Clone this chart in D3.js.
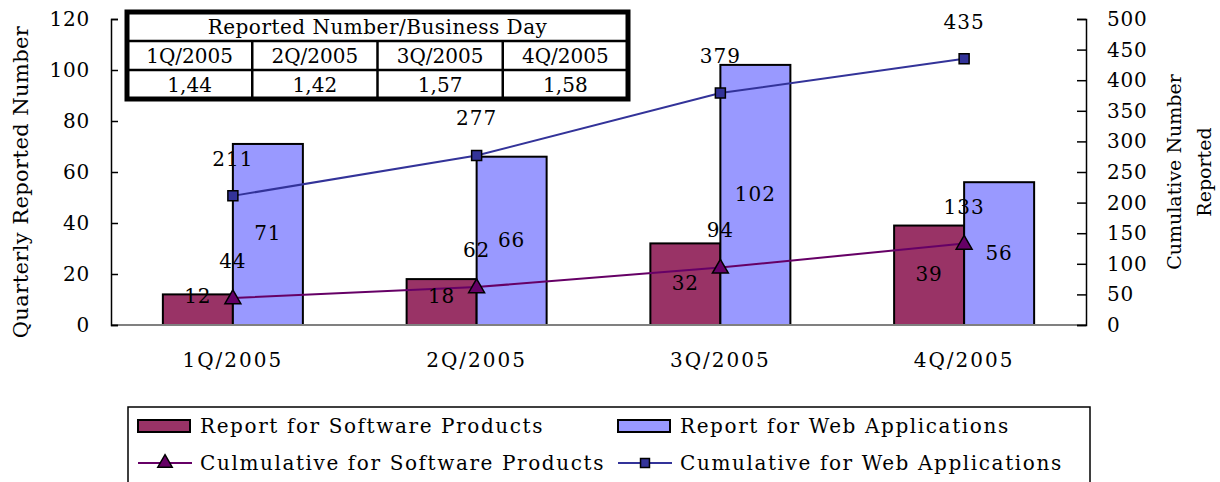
<!DOCTYPE html>
<html>
<head>
<meta charset="utf-8">
<script src="https://cdn.jsdelivr.net/npm/d3@7"></script>
<style>
    body { margin: 0; background: #fff; }
    svg { display: block; }
</style>
</head>
<body>
<div id="chart"></div>
<script>
// values
const quarters = ['1Q/2005', '2Q/2005', '3Q/2005', '4Q/2005'];
const softwareReports = [12, 18, 32, 39];
const webReports = [71, 66, 102, 56];
const softwareCumulative = [44, 62, 94, 133];
const webCumulative = [211, 277, 379, 435];
const perDay = ['1,44', '1,42', '1,57', '1,58'];
const leftTicks = [0, 20, 40, 60, 80, 100, 120];
const rightTicks = [0, 50, 100, 150, 200, 250, 300, 350, 400, 450, 500];

const W = 1220, H = 482;
const font = '"DejaVu Serif", "Liberation Serif", serif';
const fs = 20;

const m = { left: 111, right: 1086, top: 19, bottom: 325 };

const svg = d3.select('#chart')
    .append('svg')
    .attr('width', W)
    .attr('height', H)
    .style('font-family', font)
    .style('font-size', `${fs}px`);

svg.append('rect').attr('width', W).attr('height', H).style('fill', '#fff');

const x0 = d3.scaleBand()
    .domain(quarters)
    .range([m.left, m.right])
    .paddingInner(0.4256)
    .paddingOuter(0.2128);

const x1 = d3.scaleBand()
    .domain(['sw', 'web'])
    .range([0, x0.bandwidth()]);

const yL = d3.scaleLinear().domain([0, 120]).range([m.bottom, m.top]);
const yR = d3.scaleLinear().domain([0, 500]).range([m.bottom, m.top]);

const barColor = { sw: '#993366', web: '#9999FF' };
const lineColor = { sw: '#660066', web: '#333399' };

// bars
const bars = quarters.map((q, i) => [
    { q, key: 'sw', v: softwareReports[i] },
    { q, key: 'web', v: webReports[i] }
]).flat();

svg.append('g').selectAll('rect')
    .data(bars)
    .join('rect')
    .attr('x', d => x0(d.q) + x1(d.key))
    .attr('y', d => yL(d.v))
    .attr('width', x1.bandwidth())
    .attr('height', d => yL(0) - yL(d.v))
    .style('fill', d => barColor[d.key])
    .style('stroke', '#000')
    .style('stroke-width', '2px');

// axes
svg.append('line')
    .attr('x1', m.left).attr('x2', m.right)
    .attr('y1', yL(0)).attr('y2', yL(0))
    .style('stroke', '#808080').style('stroke-width', '2px');

const leftAxis = d3.axisRight(yL).tickValues(leftTicks).tickSize(7).tickFormat('');
svg.append('g')
    .attr('transform', `translate(${m.left},0)`)
    .call(leftAxis)
    .call(g => g.selectAll('line,path').style('stroke', '#000').style('stroke-width', '1.5px'));

svg.append('g').selectAll('text')
    .data(leftTicks)
    .join('text')
    .attr('x', 90)
    .attr('y', d => yL(d) + 7)
    .attr('text-anchor', 'end')
    .style('letter-spacing', '0.8px')
    .text(d => d);

const rightAxis = d3.axisLeft(yR).tickValues(rightTicks).tickSize(9).tickFormat('');
svg.append('g')
    .attr('transform', `translate(${m.right},0)`)
    .call(rightAxis)
    .call(g => g.selectAll('line,path').style('stroke', '#000').style('stroke-width', '1.5px'));

svg.append('g').selectAll('text')
    .data(rightTicks)
    .join('text')
    .attr('x', 1107)
    .attr('y', d => yR(d) + 7)
    .style('letter-spacing', '0.8px')
    .text(d => d);

svg.append('g').selectAll('text')
    .data(quarters)
    .join('text')
    .attr('x', d => x0(d) + x0.bandwidth() / 2)
    .attr('y', 367)
    .attr('text-anchor', 'middle')
    .style('letter-spacing', '2px')
    .text(d => d);

// axis titles
svg.append('text')
    .attr('transform', `translate(28, ${(m.top + m.bottom) / 2 + 10}) rotate(-90)`)
    .attr('text-anchor', 'middle')
    .style('font-size', '21px')
    .style('letter-spacing', '0.4px')
    .text('Quarterly Reported Number');

svg.append('text')
    .attr('transform', `translate(1181, 172) rotate(-90)`)
    .attr('text-anchor', 'middle')
    .style('font-size', '19px')
    .text('Cumulative Number');

svg.append('text')
    .attr('transform', `translate(1211, 172) rotate(-90)`)
    .attr('text-anchor', 'middle')
    .style('font-size', '19px')
    .text('Reported');

// lines
const cx = q => x0(q) + x0.bandwidth() / 2;
const series = [
    { key: 'sw', vals: softwareCumulative },
    { key: 'web', vals: webCumulative }
];
const line = d3.line().x(d => cx(d.q)).y(d => yR(d.v));

series.forEach(s => {
    const pts = quarters.map((q, i) => ({ q, v: s.vals[i] }));
    svg.append('path')
        .datum(pts)
        .attr('d', line)
        .style('fill', 'none')
        .style('stroke', lineColor[s.key])
        .style('stroke-width', '2px');

    const sym = d3.symbol().type(s.key === 'sw' ? d3.symbolTriangle : d3.symbolSquare)
        .size(s.key === 'sw' ? 110 : 100);
    svg.append('g').selectAll('path')
        .data(pts)
        .join('path')
        .attr('d', sym)
        .attr('transform', d => `translate(${cx(d.q)},${yR(d.v) + (s.key === 'sw' ? 1 : 0)})`)
        .style('fill', lineColor[s.key])
        .style('stroke', '#000')
        .style('stroke-width', '1.5px');

    svg.append('g').selectAll('text')
        .data(pts)
        .join('text')
        .attr('x', d => cx(d.q))
        .attr('y', d => yR(d.v) - 30)
        .attr('text-anchor', 'middle')
        .style('letter-spacing', '1px')
        .text(d => d.v);
});

// bar value labels
svg.append('g').selectAll('text')
    .data(bars)
    .join('text')
    .attr('x', d => x0(d.q) + x1(d.key) + x1.bandwidth() / 2)
    .attr('y', d => Math.min((yL(d.v) + yL(0)) / 2, yL(0) - 28) + 6)
    .attr('text-anchor', 'middle')
    .style('letter-spacing', '1px')
    .text(d => d.v);

// table: reported number per business day
const tx = d3.scaleBand().domain(quarters).range([127, 628]);
const ty = [12, 41, 70, 99];
const tbl = svg.append('g');
tbl.append('rect')
    .attr('x', 127).attr('y', 12).attr('width', 501).attr('height', 87)
    .style('fill', '#fff');
tbl.selectAll('line.h')
    .data([ty[1], ty[2]])
    .join('line')
    .attr('x1', 127).attr('x2', 628)
    .attr('y1', d => d).attr('y2', d => d)
    .style('stroke', '#000').style('stroke-width', '2.5px');
tbl.selectAll('line.v')
    .data(quarters.slice(1))
    .join('line')
    .attr('x1', d => tx(d)).attr('x2', d => tx(d))
    .attr('y1', ty[1]).attr('y2', ty[3])
    .style('stroke', '#000').style('stroke-width', '2.5px');
tbl.append('rect')
    .attr('x', 127).attr('y', 12).attr('width', 501).attr('height', 87)
    .style('fill', 'none').style('stroke', '#000').style('stroke-width', '5px');
tbl.append('text')
    .attr('x', (127 + 628) / 2).attr('y', 34)
    .attr('text-anchor', 'middle')
    .style('letter-spacing', '0.5px')
    .text('Reported Number/Business Day');
tbl.selectAll('text.q')
    .data(quarters)
    .join('text')
    .attr('x', d => tx(d) + tx.bandwidth() / 2).attr('y', 63)
    .attr('text-anchor', 'middle')
    .text(d => d);
tbl.selectAll('text.v')
    .data(perDay)
    .join('text')
    .attr('x', (d, i) => tx(quarters[i]) + tx.bandwidth() / 2).attr('y', 92)
    .attr('text-anchor', 'middle')
    .text(d => d);

// legend
const lg = svg.append('g');
lg.append('rect')
    .attr('x', 128).attr('y', 407).attr('width', 962).attr('height', 100)
    .style('fill', '#fff').style('stroke', '#000').style('stroke-width', '1.5px');

const legendItems = [
    { label: 'Report for Software Products', type: 'bar', key: 'sw', x: 138, y: 426 },
    { label: 'Report for Web Applications', type: 'bar', key: 'web', x: 618, y: 426 },
    { label: 'Culmulative for Software Products', type: 'line', key: 'sw', x: 138, y: 463 },
    { label: 'Cumulative for Web Applications', type: 'line', key: 'web', x: 618, y: 463 }
];

legendItems.forEach(it => {
    if (it.type === 'bar') {
        lg.append('rect')
            .attr('x', it.x).attr('y', it.y - 6).attr('width', 52).attr('height', 12)
            .style('fill', barColor[it.key]).style('stroke', '#000').style('stroke-width', '2px');
    } else {
        lg.append('line')
            .attr('x1', it.x).attr('x2', it.x + 54)
            .attr('y1', it.y).attr('y2', it.y)
            .style('stroke', lineColor[it.key]).style('stroke-width', '2px');
        lg.append('path')
            .attr('d', d3.symbol().type(it.key === 'sw' ? d3.symbolTriangle : d3.symbolSquare).size(it.key === 'sw' ? 90 : 80))
            .attr('transform', `translate(${it.x + 27},${it.y})`)
            .style('fill', lineColor[it.key]).style('stroke', '#000').style('stroke-width', '1.5px');
    }
    lg.append('text')
        .attr('x', it.x + 62).attr('y', it.y + 7)
        .style('letter-spacing', '1.6px')
        .text(it.label);
});
</script>
</body>
</html>
